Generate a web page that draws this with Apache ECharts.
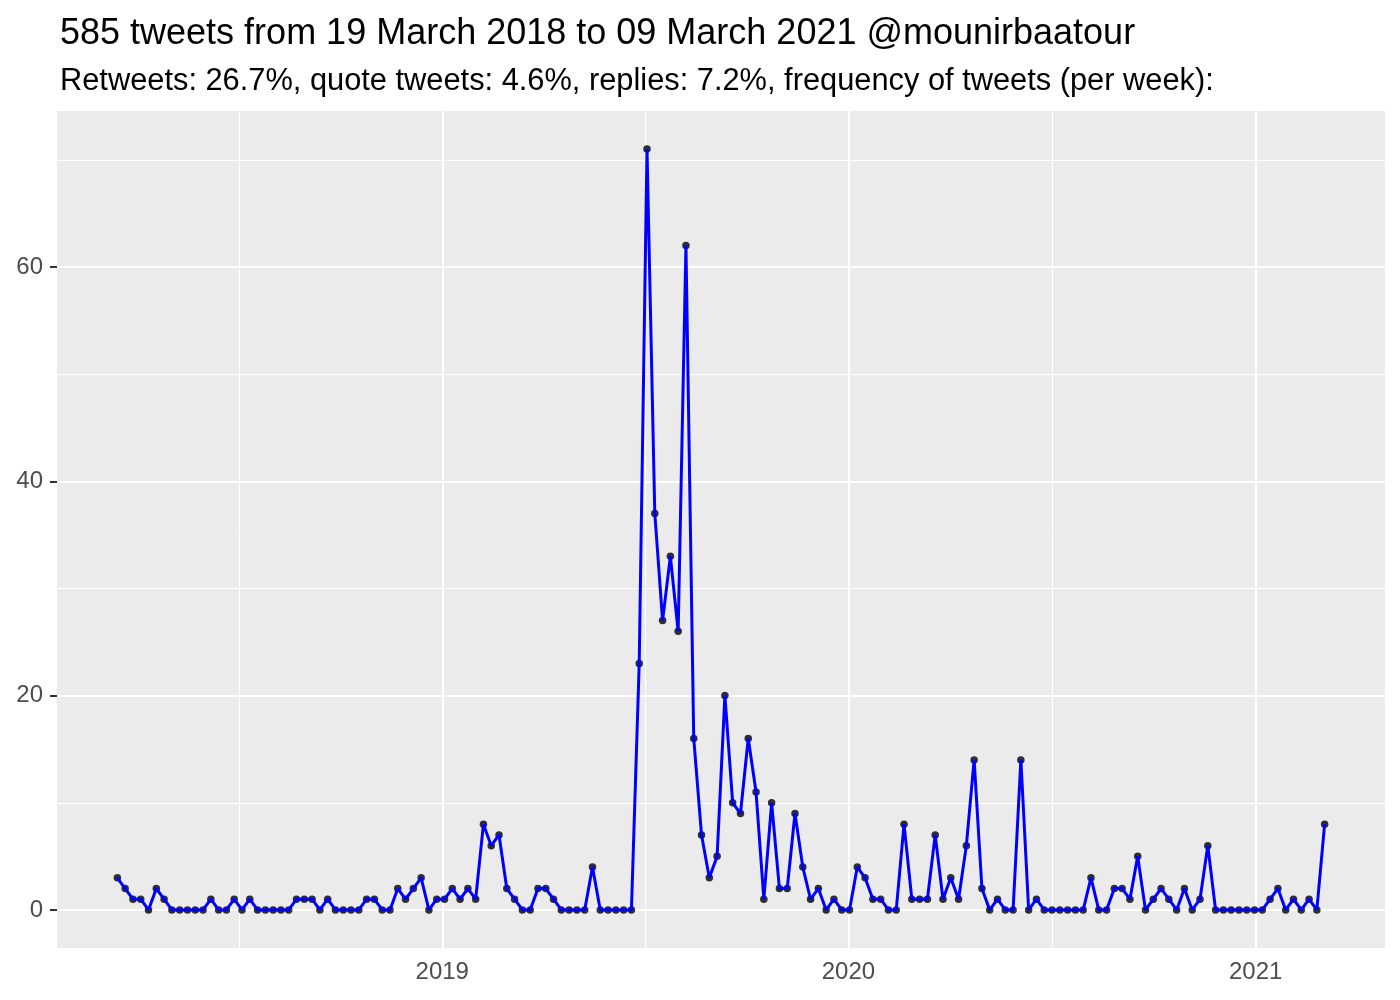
<!DOCTYPE html>
<html><head><meta charset="utf-8">
<script src="https://cdn.jsdelivr.net/npm/echarts@6/dist/echarts.min.js"></script>
<style>html,body{margin:0;padding:0;background:#fff}#chart{width:1400px;height:1000px}</style>
</head><body><div id="chart"></div>
<script>
const titleText = '585 tweets from 19 March 2018 to 09 March 2021 @mounirbaatour';
const subtitleText = 'Retweets: 26.7%, quote tweets: 4.6%, replies: 7.2%, frequency of tweets (per week):';
const firstWeek = '2018-03-15';
const weeklyTweets = [
  3,2,1,1,0,2,1,0,0,0,
  0,0,1,0,0,1,0,1,0,0,
  0,0,0,1,1,1,0,1,0,0,
  0,0,1,1,0,0,2,1,2,3,
  0,1,1,2,1,2,1,8,6,7,
  2,1,0,0,2,2,1,0,0,0,
  0,4,0,0,0,0,0,23,71,37,
  27,33,26,62,16,7,3,5,20,10,
  9,16,11,1,10,2,2,9,4,1,
  2,0,1,0,0,4,3,1,1,0,
  0,8,1,1,1,7,1,3,1,6,
  14,2,0,1,0,0,14,0,1,0,
  0,0,0,0,0,3,0,0,2,2,
  1,5,0,1,2,1,0,2,0,1,
  6,0,0,0,0,0,0,0,1,2,
  0,1,0,1,0,8
];
const xBreakYears = [2019, 2020, 2021];
const yBreaks = [0, 20, 40, 60];
const yMinorBreaks = [10, 30, 50, 70];
const yRange = [-3.55, 74.55];

const FONT = '"Liberation Sans", Arial, Helvetica, sans-serif';
const DAY = 86400000;
const t0 = Date.parse(firstWeek + 'T00:00:00Z');
const weekTimes = weeklyTweets.map((_, i) => t0 + i * 7 * DAY);
const points = weekTimes.map((t, i) => [t, weeklyTweets[i]]);
const tLast = weekTimes[weekTimes.length - 1];
const pad = (tLast - t0) * 0.05;
const xMin = t0 - pad, xMax = tLast + pad;
const xBreaks = xBreakYears.map(y => Date.UTC(y, 0, 1));
let xMinor = [xBreaks[0] - (xBreaks[1] - xBreaks[0]) / 2];
for (let i = 0; i < xBreaks.length - 1; i++) xMinor.push((xBreaks[i] + xBreaks[i + 1]) / 2);
xMinor.push(xBreaks[xBreaks.length - 1] + (xBreaks[xBreaks.length - 1] - xBreaks[xBreaks.length - 2]) / 2);
xMinor = xMinor.filter(t => t > xMin && t < xMax);

const gridLines = [];
yMinorBreaks.filter(v => v > yRange[0] && v < yRange[1]).forEach(v => gridLines.push({yAxis: v, lineStyle: {color: '#fff', width: 1, type: 'solid'}}));
xMinor.forEach(t => gridLines.push({xAxis: t, lineStyle: {color: '#fff', width: 1, type: 'solid'}}));
yBreaks.forEach(v => gridLines.push({yAxis: v, lineStyle: {color: '#fff', width: 2, type: 'solid'}}));
xBreaks.forEach(t => gridLines.push({xAxis: t, lineStyle: {color: '#fff', width: 2, type: 'solid'}}));

const chart = echarts.init(document.getElementById('chart'), null, {renderer: 'canvas'});
chart.setOption({
  animation: false,
  backgroundColor: '#ffffff',
  title: [
    {text: titleText, left: 55, top: 11, textStyle: {fontFamily: FONT, fontSize: 36, fontWeight: 'normal', color: '#000'}},
    {text: subtitleText, left: 55, top: 61, textStyle: {fontFamily: FONT, fontSize: 30.8, fontWeight: 'normal', color: '#000'}}
  ],
  grid: {left: 57, right: 15, top: 111, bottom: 52, show: true, backgroundColor: '#EBEBEB', borderWidth: 0, containLabel: false},
  xAxis: {
    type: 'value', min: xMin, max: xMax, scale: true,
    axisLine: {show: false},
    axisTick: {show: true, customValues: xBreaks, length: 7, lineStyle: {color: '#333333', width: 2}},
    axisLabel: {customValues: xBreaks, formatter: v => String(new Date(v).getUTCFullYear()), color: '#4D4D4D', fontSize: 24, fontFamily: FONT, margin: 12},
    splitLine: {show: false}
  },
  yAxis: {
    type: 'value', min: yRange[0], max: yRange[1],
    axisLine: {show: false},
    axisTick: {show: true, customValues: yBreaks, length: 7, lineStyle: {color: '#333333', width: 2}},
    axisLabel: {customValues: yBreaks, color: '#4D4D4D', fontSize: 24, fontFamily: FONT, margin: 14},
    splitLine: {show: false}
  },
  series: [
    {
      type: 'line', data: points, showSymbol: false, silent: true, z: 1,
      lineStyle: {opacity: 0, width: 0},
      markLine: {z: 1, silent: true, symbol: ['none', 'none'], label: {show: false}, animation: false, data: gridLines}
    },
    {
      type: 'scatter', data: points, symbolSize: 7.5, z: 10, silent: true,
      itemStyle: {color: '#000000'}
    },
    {
      type: 'line', data: points, showSymbol: false, z: 11, silent: true,
      lineStyle: {color: '#0000FF', width: 3}
    }
  ]
});
</script>
</body></html>
